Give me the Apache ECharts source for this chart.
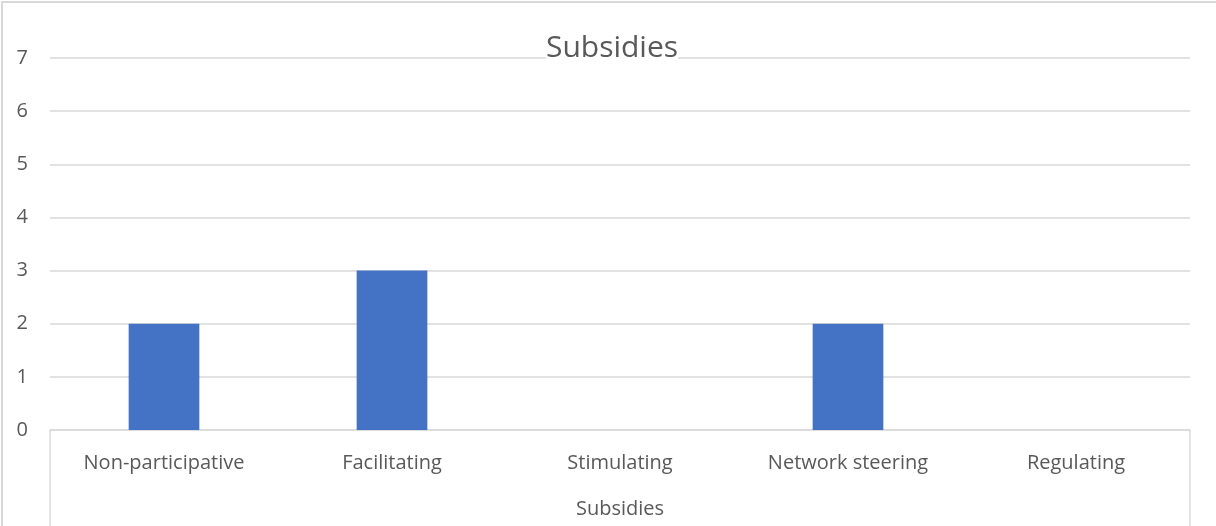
<!DOCTYPE html>
<html>
<head>
<meta charset="utf-8">
<style>
  html, body { margin: 0; padding: 0; background: #ffffff; }
  #frame {
    position: absolute; left: 1px; top: 1px; width: 1215px; height: 525px;
    border-top: 2px solid #d9d9d9; border-left: 2px solid #d9d9d9;
    box-sizing: border-box;
  }
  #chart { position: absolute; left: 0; top: 0; width: 1216px; height: 526px; }
</style>
<script src="https://cdn.jsdelivr.net/npm/echarts@6/dist/echarts.min.js"></script>
</head>
<body>
<div id="frame"></div>
<div id="chart"></div>
<script>
// Chart data
const chartTitle = 'Subsidies';
const groupLabel = ['Subsidies'];
const categories = ['Non-participative', 'Facilitating', 'Stimulating', 'Network steering', 'Regulating'];
const counts = [2, 3, 0, 2, 0];
const yTicks = { min: 0, max: 7, interval: 1 };

const textColor = '#595959';
const lineColor = '#d9d9d9';
const fontFamily = '"Open Sans", "Liberation Sans", sans-serif';

const chart = echarts.init(document.getElementById('chart'), null, { renderer: 'canvas' });
chart.setOption({
  animation: false,
  backgroundColor: 'transparent',
  title: {
    text: chartTitle,
    left: 612,
    top: 33,
    textAlign: 'center',
    padding: [0, 0, 2, 0],
    backgroundColor: '#ffffff',
    textStyle: { color: textColor, fontSize: 30, fontWeight: 'normal', fontFamily: fontFamily }
  },
  grid: { left: 50, right: 26, top: 58, bottom: 96, containLabel: false },
  xAxis: [
    {
      type: 'category',
      data: categories,
      position: 'bottom',
      axisLine: { show: true, lineStyle: { color: lineColor, width: 1.5 } },
      axisTick: { show: false },
      axisLabel: { color: textColor, fontSize: 20, fontFamily: fontFamily, margin: 23, interval: 0 }
    },
    {
      // outer group level with its bracket lines at both ends
      type: 'category',
      data: groupLabel,
      position: 'bottom',
      offset: 0,
      axisLine: { show: false },
      axisTick: { show: true, length: 100, lineStyle: { color: lineColor, width: 1.5 } },
      axisLabel: { color: textColor, fontSize: 20, fontFamily: fontFamily, margin: 69 }
    }
  ],
  yAxis: {
    type: 'value',
    min: yTicks.min,
    max: yTicks.max,
    interval: yTicks.interval,
    axisLine: { show: false },
    axisTick: { show: false },
    axisLabel: { color: textColor, fontSize: 20, fontFamily: fontFamily, margin: 22 },
    splitLine: { show: true, lineStyle: { color: lineColor, width: 1.5 } }
  },
  series: [
    {
      type: 'bar',
      xAxisIndex: 0,
      data: counts,
      barWidth: '31%',
      itemStyle: { color: '#4472c4' }
    }
  ]
});
</script>
</body>
</html>
